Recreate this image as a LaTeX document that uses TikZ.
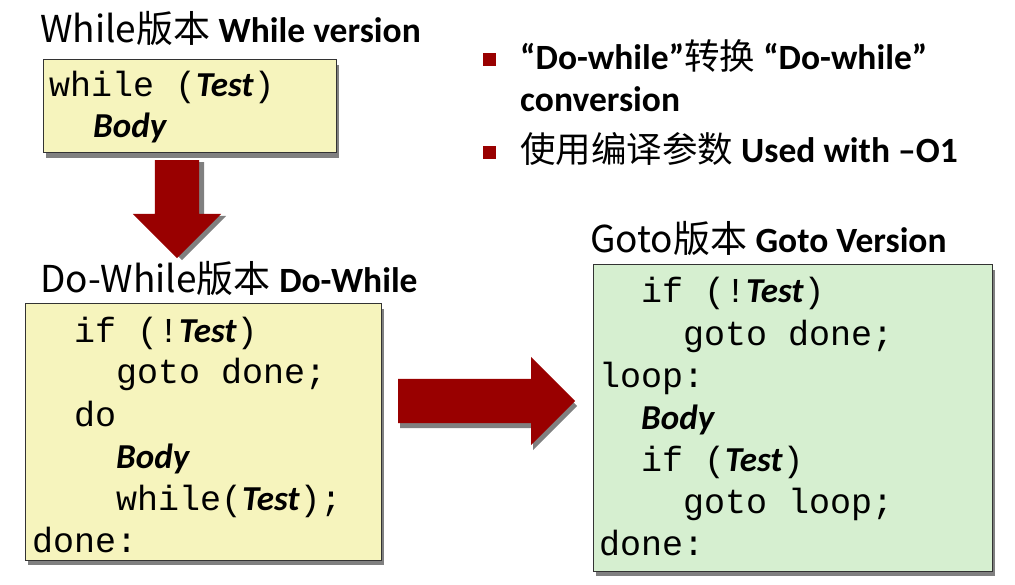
\documentclass[tikz,border=0pt]{standalone}
\usepackage{fontspec}
\setmainfont{Carlito}
\newfontfamily\cjk{Noto Sans CJK SC}
\newfontfamily\codefont{Liberation Mono}
\usetikzlibrary{shadows,shapes.arrows}
\definecolor{boxyellow}{RGB}{246,244,189}
\definecolor{boxgreen}{RGB}{214,239,208}
\definecolor{darkred}{RGB}{153,0,0}
\tikzstyle{heading} = [anchor=base west, inner sep=0pt, font=\fontsize{37}{40}\selectfont]
\tikzstyle{codebox} = [draw=black!80, line width=1pt, inner sep=0pt, drop shadow={shadow xshift=3pt, shadow yshift=-5pt, fill=gray, opacity=1}]
\tikzstyle{yellowbox} = [codebox, fill=boxyellow]
\tikzstyle{greenbox} = [codebox, fill=boxgreen]
\tikzstyle{codeline} = [anchor=base west, inner sep=0pt, font=\codefont\fontsize{35}{42}\selectfont]
\tikzstyle{bigarrow} = [single arrow, fill=darkred, anchor=tail, inner xsep=0pt, inner ysep=22pt, single arrow head extend=22pt]
\tikzstyle{rightshadow} = [drop shadow={shadow xshift=2pt, shadow yshift=-5pt, fill=gray, opacity=1}]
\tikzstyle{downshadow} = [drop shadow={shadow xshift=5pt, shadow yshift=-2pt, fill=gray, opacity=1}]
\tikzstyle{bullet} = [fill=darkred, minimum size=13pt, inner sep=0pt]
\tikzstyle{pointtxt} = [anchor=base west, inner sep=0pt, font=\fontsize{35.5}{40}\selectfont]
\newcommand{\kwTest}{{\normalfont\bfseries\itshape Test}}
\newcommand{\kwBody}{{\normalfont\bfseries\itshape Body}}
\newcommand{\zh}[1]{{\cjk\mdseries #1}}
\newcommand{\hb}[1]{{\fontsize{35.5}{40}\selectfont\bfseries #1}}

\begin{document}
\begin{tikzpicture}[x=1pt, y=-1pt]
	\useasboundingbox (0,0) rectangle (1015,585);

	% while version
	\node[heading] (wtitle) at (40,43) {\zh{While版本} \hb{While version}};
	\node[yellowbox, minimum width=293pt, minimum height=93pt] (wbox) at (189.5,106.5) {};
	\node[codeline] (w1) at (49,97) {while (\kwTest)};
	\node[codeline] (w2) at (93,138) {\kwBody};

	\node[bigarrow, downshadow, rotate=-90, minimum height=98pt] (down) at (177,160) {};

	% do-while version
	\node[heading] (dtitle) at (40,293) {\zh{Do-While版本} \hb{Do-While}};
	\node[yellowbox, minimum width=356pt, minimum height=256pt] (dbox) at (203,432) {};
	\foreach \n/\x/\y/\txt in {1/74/342/{if (!\kwTest)}, 2/116/384/{goto done;},
			3/74/426/{do}, 4/116/468/{\kwBody}, 5/116/510/{while(\kwTest);}, 6/32/552/{done:}}{
		\node[codeline] (d\n) at (\x,\y) {\txt};
	}

	\node[bigarrow, rightshadow, minimum height=177pt] (right) at (398,401) {};

	% goto version
	\node[heading] (gtitle) at (590,253) {\zh{Goto版本} \hb{Goto Version}};
	\node[greenbox, minimum width=399pt, minimum height=306pt] (gbox) at (792.5,418) {};
	\foreach \n/\x/\y/\txt in {1/641/303/{if (!\kwTest)}, 2/683/345/{goto done;},
			3/599/387/{loop:}, 4/641/429/{\kwBody}, 5/641/471/{if (\kwTest)},
			6/683/513/{goto loop;}, 7/599/555/{done:}}{
		\node[codeline] (g\n) at (\x,\y) {\txt};
	}

	% points
	\foreach \n/\y in {1/60, 2/153}
		\node[bullet] (b\n) at (489,\y) {};
	\node[pointtxt] (p1) at (520,70) {\textbf{“Do-while”}\zh{转换} \textbf{“Do-while”}};
	\node[pointtxt] (p1b) at (520,112) {\textbf{conversion}};
	\node[pointtxt] (p2) at (520,163) {\zh{使用编译参数} \textbf{Used with –O1}};
\end{tikzpicture}
\end{document}
